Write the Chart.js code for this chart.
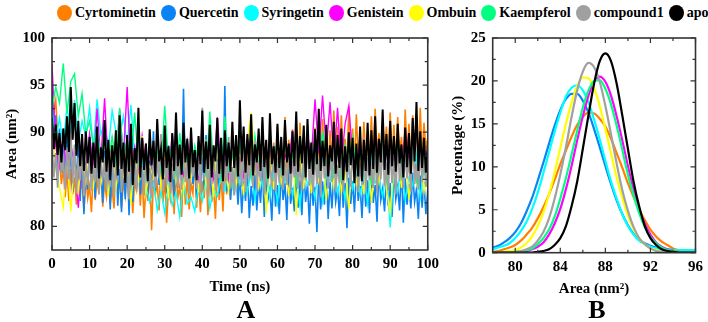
<!DOCTYPE html>
<html>
<head>
<meta charset="utf-8">
<script src="https://cdn.jsdelivr.net/npm/chart.js@4.4.1/dist/chart.umd.min.js"></script>
<style>
    html, body { margin: 0; padding: 0; background: #fff; }
    body {
        width: 708px; height: 322px; position: relative; overflow: hidden;
        font-family: 'Liberation Serif', 'Times New Roman', serif;
    }
    #legend {
        position: absolute; left: 57px; top: 4px; height: 18px;
        display: flex; align-items: center;
        font-weight: bold; font-size: 14px; white-space: nowrap; color: #000;
    }
    .item { display: flex; align-items: center; margin-right: 5px; }
    .dot { width: 15px; height: 16px; border-radius: 50%; margin-right: 3px; }
    #wrapA { position: absolute; left: 0; top: 22px; }
    #wrapB { position: absolute; left: 444px; top: 22px; }
    .tag {
        position: absolute; width: 100px; text-align: center;
        font-weight: bold; font-size: 26px; line-height: 26px; color: #000;
    }
</style>
</head>
<body>
<div id="legend"></div>
<div id="wrapA"><canvas id="chartA" width="444" height="300"></canvas></div>
<div id="wrapB"><canvas id="chartB" width="264" height="300"></canvas></div>
<div class="tag" style="left:196px; top:297px;">A</div>
<div class="tag" style="left:547px; top:297px;">B</div>
<script>
// ---- series names and colours (legend order) ----
const seriesNames = ['Cyrtominetin', 'Quercetin', 'Syringetin', 'Genistein', 'Ombuin', 'Kaempferol', 'compound1', 'apo'];
const seriesColors = ['#ff8000', '#0a84f5', '#00ffff', '#ff00ff', '#ffff00', '#00ff80', '#a0a0a0', '#000000'];
// trace widths for panel A (dense trajectories look solid)
const traceWidths = [1.6, 1.6, 1.4, 1.4, 1.4, 1.4, 1.8, 2.0];

// ---- panel A: area vs time (ns) ----
const timeTicks = [0, 10, 20, 30, 40, 50, 60, 70, 80, 90, 100];
const areaTicks = [80, 85, 90, 95, 100];

// sampled every 0.5 ns
const cyrtoArea = [
    94.6, 92.1, 93.4, 89.7, 87.2, 84.5, 86.3, 83.1, 85.8, 82.7,
    86.1, 83.4, 85.2, 82.3, 86.7, 83.8, 84.9, 81.6, 85.5, 83.0,
    84.3, 81.5, 86.2, 82.8, 85.0, 83.5, 87.1, 82.1, 84.6, 83.2,
    85.8, 82.4, 84.1, 81.9, 86.0, 83.6, 85.3, 82.0, 84.7, 83.3,
    86.4, 82.6, 85.1, 81.4, 84.8, 83.9, 86.6, 82.2, 85.4, 80.9,
    84.2, 82.7, 86.3, 79.6, 85.0, 83.4, 84.5, 81.7, 86.8, 82.5,
    85.2, 80.4, 84.0, 82.9, 86.1, 81.3, 85.7, 83.1, 84.3, 81.0,
    86.4, 82.3, 85.1, 81.8, 84.6, 83.5, 86.9, 82.0, 85.3, 81.5,
    84.8, 83.0, 86.2, 81.2, 85.6, 82.6, 84.1, 80.8, 86.5, 82.8,
    85.3, 81.6, 87.2, 83.4, 88.6, 82.9, 86.0, 84.1, 89.3, 83.6,
    87.5, 84.2, 89.8, 83.7, 88.1, 85.3, 90.4, 84.6, 87.2, 85.9,
    89.6, 84.8, 91.2, 85.5, 88.3, 84.0, 90.1, 86.2, 88.9, 85.1,
    90.7, 85.8, 88.4, 84.7, 91.6, 86.0, 89.2, 85.3, 90.3, 86.5,
    88.6, 85.2, 91.0, 86.3, 89.5, 84.9, 90.8, 86.7, 88.2, 85.6,
    90.5, 86.1, 89.0, 85.4, 91.4, 86.8, 88.7, 85.7, 90.2, 86.4,
    92.3, 87.1, 90.6, 86.2, 91.8, 87.4, 89.3, 86.0, 92.7, 87.6,
    90.4, 86.5, 91.9, 87.2, 89.8, 85.9, 91.1, 86.8, 90.0, 87.3,
    91.7, 86.4, 92.5, 87.5, 89.9, 86.9, 91.3, 87.8, 90.6, 86.6,
    92.1, 87.0, 90.8, 86.3, 91.6, 87.7, 89.5, 86.1, 92.4, 87.4,
    90.9, 86.8, 91.8, 87.9, 90.2, 86.5, 92.6, 87.2, 91.0, 88.3,
    89.4
];
const quercetinArea = [
    95.6, 89.3, 91.8, 86.2, 90.4, 85.7, 88.9, 84.3, 89.6, 85.1,
    88.2, 83.6, 87.9, 84.8, 89.1, 82.7, 87.4, 81.3, 86.6, 83.9,
    88.5, 84.2, 87.1, 83.0, 89.4, 84.6, 86.3, 82.5, 88.0, 83.7,
    86.9, 81.8, 87.6, 83.3, 88.7, 82.2, 86.1, 81.5, 87.3, 82.9,
    88.1, 81.2, 86.7, 82.6, 87.8, 84.0, 89.2, 83.4, 86.5, 84.5,
    88.8, 83.1, 87.0, 84.9, 90.1, 83.8, 87.5, 84.4, 89.0, 85.2,
    87.7, 83.5, 88.6, 84.7, 86.4, 83.2, 89.5, 84.1, 87.2, 85.0,
    94.6, 84.8, 88.3, 83.6, 87.9, 84.5, 86.8, 83.0, 88.9, 84.2,
    87.4, 83.9, 89.7, 84.6, 86.6, 83.3, 88.2, 84.8, 87.1, 83.5,
    89.3, 84.0, 94.9, 83.7, 87.5, 82.8, 86.2, 83.4, 85.8, 82.3,
    85.6, 81.4, 84.8, 82.7, 86.0, 80.9, 84.3, 82.2, 85.5, 81.7,
    84.7, 82.5, 86.2, 81.0, 85.1, 82.9, 84.0, 80.6, 85.8, 82.1,
    84.4, 81.3, 85.9, 82.8, 84.6, 80.7, 86.3, 82.4, 84.1, 81.6,
    85.7, 82.0, 84.9, 81.2, 86.1, 82.6, 84.5, 80.3, 85.3, 82.2,
    84.2, 79.4, 85.6, 81.8, 84.8, 82.3, 86.0, 80.8, 84.7, 81.9,
    85.4, 82.6, 84.1, 81.1, 85.9, 82.0, 84.6, 79.8, 85.2, 82.4,
    84.8, 81.5, 86.1, 82.7, 84.3, 80.9, 85.6, 82.1, 84.9, 81.4,
    85.8, 82.5, 84.4, 80.5, 86.2, 82.8, 84.0, 81.6, 85.3, 82.2,
    84.6, 81.0, 85.9, 82.9, 84.2, 81.7, 86.4, 80.4, 85.1, 82.3,
    84.5, 81.9, 85.7, 82.6, 84.0, 80.8, 85.4, 82.0, 84.7, 81.3,
    83.8
];
const compound1Area = [
    88.9, 85.2, 87.8, 84.1, 89.6, 85.7, 87.1, 83.9, 88.4, 85.0,
    90.2, 84.6, 88.7, 83.5, 87.3, 84.9, 88.1, 83.2, 86.9, 84.4,
    87.7, 83.8, 86.5, 84.7, 88.9, 83.4, 87.2, 85.1, 86.6, 83.7,
    88.3, 84.2, 87.5, 83.1, 86.8, 84.8, 89.1, 83.6, 87.4, 84.5,
    86.9, 82.9, 88.6, 84.3, 87.0, 83.7, 89.4, 84.9, 86.4, 83.3,
    87.9, 84.6, 86.2, 83.0, 88.5, 84.1, 87.3, 85.2, 89.8, 83.8,
    87.1, 84.4, 88.2, 83.5, 86.7, 85.0, 88.8, 84.2, 87.6, 83.9,
    89.0, 84.7, 86.9, 83.4, 88.0, 85.3, 87.2, 84.0, 88.7, 83.6,
    92.6, 84.9, 89.3, 83.2, 87.5, 84.5, 88.4, 83.8, 86.6, 85.1,
    88.1, 83.7, 87.0, 84.8, 89.5, 84.0, 86.3, 83.3, 88.6, 84.6,
    87.4, 84.3, 88.9, 83.6, 86.5, 85.4, 87.8, 84.1, 89.2, 83.9,
    86.9, 84.8, 88.3, 83.4, 87.6, 85.0, 86.4, 84.2, 88.7, 83.7,
    87.3, 84.6, 89.0, 83.9, 86.8, 84.4, 88.2, 83.5, 87.0, 85.2,
    88.5, 84.0, 86.7, 83.8, 87.9, 84.9, 89.3, 84.3, 86.6, 83.6,
    88.0, 84.5, 87.2, 83.1, 88.8, 85.1, 86.9, 84.0, 87.7, 84.7,
    89.1, 83.9, 86.5, 84.6, 88.3, 83.7, 87.5, 85.3, 86.8, 84.2,
    87.9, 84.8, 88.6, 83.6, 86.7, 84.4, 89.4, 83.9, 87.3, 84.9,
    86.8, 84.1, 88.1, 83.5, 87.6, 85.0, 88.9, 84.3, 86.5, 83.8,
    88.4, 84.6, 87.0, 83.4, 89.2, 84.8, 86.9, 84.0, 88.0, 85.1,
    87.2, 83.7, 91.2, 84.5, 86.6, 83.9, 88.3, 84.7, 87.5, 84.2,
    86.4
];
const apoArea = [
    91.5, 88.2, 90.8, 87.6, 89.9, 86.8, 90.4, 88.1, 91.7, 87.9,
    94.8, 89.2, 93.1, 87.5, 91.2, 86.4, 89.8, 85.9, 90.1, 86.7,
    89.5, 85.6, 88.9, 86.2, 90.6, 85.1, 88.4, 86.8, 91.3, 85.8,
    89.2, 84.9, 88.6, 86.3, 90.2, 85.4, 91.8, 86.1, 88.9, 84.6,
    89.7, 85.8, 90.9, 84.4, 88.3, 86.7, 92.6, 85.2, 89.4, 86.0,
    88.8, 84.8, 90.3, 86.5, 89.1, 85.3, 91.4, 86.9, 88.2, 85.0,
    90.7, 86.2, 88.5, 84.7, 89.9, 85.9, 92.1, 86.4, 88.7, 85.5,
    91.0, 86.8, 89.3, 85.1, 90.5, 86.3, 88.1, 84.9, 89.6, 86.6,
    92.3, 85.7, 89.0, 86.1, 90.8, 85.2, 88.6, 86.9, 91.5, 85.6,
    89.4, 84.8, 90.2, 86.4, 88.9, 85.8, 91.1, 86.2, 89.7, 85.3,
    93.4, 86.9, 90.6, 85.7, 89.8, 86.5, 91.9, 85.4, 88.7, 86.8,
    90.4, 85.9, 91.6, 86.3, 89.2, 85.1, 92.0, 86.6, 88.5, 85.7,
    90.9, 86.2, 89.5, 85.4, 91.3, 86.8, 88.8, 85.6, 90.1, 86.4,
    92.2, 85.8, 89.6, 86.7, 90.7, 85.2, 91.4, 86.1, 88.9, 85.5,
    90.3, 86.6, 92.5, 85.9, 89.1, 86.4, 90.8, 85.3, 88.6, 86.9,
    91.1, 85.6, 89.7, 86.2, 90.4, 84.9, 88.5, 85.8, 90.0, 86.5,
    89.4, 84.6, 88.8, 85.3, 90.6, 84.8, 89.2, 85.9, 91.0, 85.4,
    90.2, 86.1, 91.7, 85.7, 89.3, 86.8, 92.4, 86.0, 89.8, 85.5,
    91.2, 86.4, 89.6, 85.8, 90.9, 86.7, 88.7, 85.2, 90.5, 86.3,
    89.9, 85.6, 91.5, 86.9, 93.2, 85.9, 90.1, 86.2, 89.4, 85.7,
    88.6
];

// sampled every 1 ns
const syringetinArea = [
    92.4, 89.1, 91.5, 88.6, 92.8, 89.7, 93.4, 88.9, 91.2, 89.5,
    92.6, 88.4, 93.5, 89.8, 91.0, 88.2, 92.3, 90.1, 89.4, 91.7,
    88.6, 92.9, 87.3, 90.4, 86.8, 84.2, 82.6, 84.9, 81.7, 83.8,
    81.4, 84.5, 82.2, 83.6, 81.0, 84.8, 82.4, 83.1, 81.6, 84.3,
    82.7, 85.1, 81.9, 84.0, 83.2, 85.6, 83.8, 86.2, 84.1, 86.8,
    84.5, 87.2, 83.6, 85.9, 82.8, 86.5, 84.2, 87.4, 83.1, 85.7,
    82.5, 86.3, 84.7, 87.0, 83.3, 85.4, 82.1, 86.6, 84.4, 85.2,
    83.0, 86.9, 82.6, 85.3, 84.8, 87.1, 83.5, 85.8, 82.9, 86.4,
    84.0, 86.7, 83.4, 85.5, 82.4, 87.3, 84.6, 85.0, 83.2, 86.1,
    79.9, 85.6, 83.7, 86.8, 82.8, 85.2, 84.3, 87.5, 83.0, 85.9,
    84.6
];
const genisteinArea = [
    97.2, 88.5, 86.3, 89.2, 85.6, 88.8, 86.4, 82.0, 87.9, 86.1,
    89.8, 86.3, 92.5, 87.0, 93.6, 85.8, 89.2, 86.7, 92.4, 87.3,
    94.8, 86.1, 88.4, 85.5, 89.6, 86.8, 87.9, 85.2, 89.3, 86.5,
    88.7, 84.8, 89.9, 86.2, 87.4, 85.6, 89.1, 86.9, 88.2, 84.5,
    89.5, 86.4, 87.7, 85.1, 91.6, 86.0, 88.5, 84.9, 89.3, 86.6,
    88.0, 85.3, 89.4, 86.7, 87.2, 85.7, 89.8, 84.6, 88.6, 86.2,
    89.1, 85.4, 87.6, 86.9, 90.2, 85.0, 88.3, 86.3, 89.7, 87.2,
    93.5, 87.8, 93.9, 88.1, 93.2, 87.0, 92.6, 86.5, 90.9, 92.8,
    87.4, 85.9, 89.2, 86.1, 88.1, 85.3, 90.0, 86.8, 87.9, 85.6,
    89.6, 86.4, 88.4, 85.2, 90.3, 86.7, 87.5, 85.8, 89.0, 86.3,
    88.2
];
const ombuinArea = [
    90.8, 86.3, 84.1, 82.0, 87.5, 81.6, 86.9, 83.4, 88.2, 84.7,
    87.6, 83.9, 88.9, 84.5, 86.8, 83.2, 89.3, 84.0, 87.1, 85.4,
    88.5, 82.3, 87.9, 84.6, 89.6, 83.5, 86.4, 85.1, 88.7, 84.2,
    87.3, 83.0, 89.1, 84.8, 86.6, 83.7, 88.3, 85.0, 87.4, 83.6,
    88.8, 84.3, 87.0, 83.1, 89.4, 84.9, 86.5, 83.8, 88.1, 84.4,
    87.7, 83.3, 89.0, 92.1, 86.3, 84.1, 88.6, 81.4, 87.2, 83.9,
    89.2, 84.6, 86.7, 83.2, 88.4, 81.2, 87.8, 84.0, 89.5, 83.5,
    86.9, 84.8, 88.0, 82.7, 87.5, 84.2, 89.1, 83.6, 86.4, 81.8,
    88.3, 84.5, 87.1, 83.4, 89.0, 82.5, 86.8, 84.7, 88.5, 83.9,
    81.5, 86.4, 87.9, 84.1, 88.6, 82.8, 87.3, 84.6, 89.2, 83.7,
    86.5
];
const kaempferolArea = [
    92.5, 94.8, 93.1, 97.3, 92.0, 95.4, 96.2, 91.7, 94.1, 89.8,
    91.2, 88.6, 90.3, 87.4, 89.8, 86.9, 89.5, 86.8, 92.6, 87.2,
    89.4, 86.9, 92.1, 86.6, 88.3, 85.4, 89.2, 86.1, 88.0, 85.8,
    92.8, 86.6, 88.7, 85.4, 89.9, 86.2, 87.8, 85.9, 88.6, 86.8,
    88.1, 85.3, 92.2, 86.5, 89.3, 84.7, 91.7, 86.0, 87.6, 85.6,
    88.9, 86.3, 88.4, 85.1, 89.6, 86.7, 87.2, 84.9, 89.1, 86.4,
    89.3, 85.7, 88.8, 86.8, 87.5, 84.6, 89.7, 85.9, 88.0, 86.1,
    89.4, 85.2, 90.1, 86.6, 87.9, 85.5, 89.2, 84.8, 88.6, 86.9,
    89.5, 85.8, 87.7, 86.2, 89.6, 84.4, 88.3, 86.5, 90.0, 85.1,
    87.8, 86.0, 89.9, 85.4, 88.7, 86.3, 87.4, 84.9, 89.5, 85.7,
    87.9
];

// ---- panel B: area distribution (%) ----
const distX = [78, 78.5, 79, 79.5, 80, 80.5, 81, 81.5, 82, 82.5, 83, 83.5, 84, 84.5, 85, 85.5, 86, 86.5,
    87, 87.5, 88, 88.5, 89, 89.5, 90, 90.5, 91, 91.5, 92, 92.5, 93, 93.5, 94, 94.5, 95, 95.5, 96];
const distTicksX = [80, 84, 88, 92, 96];
const distTicksY = [0, 5, 10, 15, 20, 25];

const cyrtoDist = [0.1, 0.2, 0.4, 0.6, 0.9, 1.4, 2.1, 2.9, 4.0, 5.3, 6.8, 8.5, 10.3, 11.9, 13.5, 14.9, 15.8, 16.3,
    16.2, 15.6, 14.7, 13.3, 11.6, 9.9, 8.1, 6.5, 5.0, 3.8, 2.7, 1.9, 1.3, 0.9, 0.5, 0.3, 0.2, 0.1, 0.1];
const quercetinDist = [0.6, 0.8, 1.2, 1.7, 2.4, 3.4, 4.8, 6.4, 8.4, 10.5, 12.7, 14.8, 16.6, 17.9, 18.5, 18.5, 17.7, 16.3,
    14.4, 12.3, 10.1, 8.0, 6.1, 4.5, 3.2, 2.2, 1.5, 1.1, 0.8, 0.6, 0.4, 0.4, 0.3, 0.3, 0.3, 0.3, 0.3];
const syringetinDist = [0.4, 0.6, 0.8, 1.1, 1.7, 2.5, 3.6, 5.1, 7.0, 9.3, 11.7, 14.1, 16.3, 18.2, 19.2, 19.5, 18.9, 17.5,
    15.5, 13.2, 10.7, 8.3, 6.3, 4.5, 3.1, 2.1, 1.4, 1.0, 0.7, 0.5, 0.4, 0.4, 0.3, 0.3, 0.3, 0.3, 0.3];
const genisteinDist = [0, 0, 0, 0, 0, 0.1, 0.2, 0.4, 0.7, 1.2, 2.1, 3.4, 5.1, 7.4, 10.1, 13.1, 15.9, 18.3,
    19.9, 20.5, 19.9, 18.3, 15.9, 13.1, 10.1, 7.4, 5.1, 3.4, 2.1, 1.2, 0.7, 0.4, 0.2, 0.1, 0, 0, 0];
const ombuinDist = [0, 0, 0.1, 0.2, 0.3, 0.6, 1.1, 1.9, 3.1, 4.7, 6.8, 9.3, 12.2, 15.0, 17.5, 19.4, 20.4, 20.3,
    19.1, 17.1, 14.4, 11.6, 8.8, 6.4, 4.3, 2.8, 1.7, 1.0, 0.5, 0.3, 0.1, 0.1, 0, 0, 0, 0, 0];
const kaempferolDist = [0, 0, 0, 0, 0.1, 0.1, 0.3, 0.5, 1.0, 1.7, 2.7, 4.2, 6.3, 8.7, 11.4, 14.2, 16.9, 18.9,
    20.0, 20.1, 19.1, 17.3, 14.8, 12.0, 9.1, 6.7, 4.6, 3.0, 1.8, 1.1, 0.6, 0.3, 0.2, 0.1, 0, 0, 0];
const compound1Dist = [0, 0, 0, 0, 0.1, 0.2, 0.4, 0.7, 1.4, 2.4, 4.0, 6.3, 9.1, 12.3, 15.8, 18.9, 21.1, 22.1,
    21.6, 19.9, 17.1, 13.8, 10.4, 7.3, 4.9, 3.0, 1.7, 1.0, 0.5, 0.2, 0.1, 0, 0, 0, 0, 0, 0];
const apoDist = [0, 0, 0, 0, 0, 0, 0, 0, 0.1, 0.2, 0.4, 0.9, 1.7, 3.1, 5.4, 8.3, 12.1, 16.0,
    19.7, 22.3, 23.2, 22.3, 19.7, 16.0, 12.1, 8.3, 5.4, 3.1, 1.7, 0.9, 0.4, 0.2, 0.1, 0, 0, 0, 0];

// series tables in legend order
const timeSeries = [
    { values: cyrtoArea, step: 0.5 },
    { values: quercetinArea, step: 0.5 },
    { values: syringetinArea, step: 1 },
    { values: genisteinArea, step: 1 },
    { values: ombuinArea, step: 1 },
    { values: kaempferolArea, step: 1 },
    { values: compound1Area, step: 0.5 },
    { values: apoArea, step: 0.5 }
];
const distSeries = [cyrtoDist, quercetinDist, syringetinDist, genisteinDist, ombuinDist, kaempferolDist, compound1Dist, apoDist];

// ---- legend (HTML, spans both panels) ----
const legendEl = document.getElementById('legend');
seriesNames.forEach((name, i) => {
    const item = document.createElement('div');
    item.className = 'item';
    const dot = document.createElement('span');
    dot.className = 'dot';
    dot.style.background = seriesColors[i];
    const label = document.createElement('span');
    label.textContent = name;
    item.appendChild(dot);
    item.appendChild(label);
    legendEl.appendChild(item);
});

// ---- shared styling ----
const FONT = "'Liberation Serif', 'Times New Roman', serif";
const tickFont = { family: FONT, size: 15, weight: 'bold' };
const titleFont = { family: FONT, size: 15, weight: 'bold' };

// box frame with inward major / minor ticks on all four sides
const frameTicks = {
    id: 'frameTicks',
    afterDatasetsDraw(chart) {
        const { ctx, chartArea: a, scales } = chart;
        const sx = scales.x, sy = scales.y;
        const minorOf = (scale) => {
            const v = scale.ticks.map(t => t.value);
            const step = v[1] - v[0];
            const out = [];
            for (let i = 0; i < v.length; i++) {
                const m = v[i] - step / 2;
                if (m > scale.min) out.push(m);
            }
            const last = v[v.length - 1] + step / 2;
            if (last < scale.max) out.push(last);
            return out;
        };
        ctx.save();
        ctx.strokeStyle = '#333';
        ctx.lineWidth = 1.6;
        ctx.strokeRect(a.left, a.top, a.right - a.left, a.bottom - a.top);
        ctx.lineWidth = 1.2;
        ctx.beginPath();
        const tickX = (v, len) => {
            const p = sx.getPixelForValue(v);
            ctx.moveTo(p, a.bottom); ctx.lineTo(p, a.bottom - len);
            ctx.moveTo(p, a.top); ctx.lineTo(p, a.top + len);
        };
        const tickY = (v, len) => {
            const p = sy.getPixelForValue(v);
            ctx.moveTo(a.left, p); ctx.lineTo(a.left + len, p);
            ctx.moveTo(a.right, p); ctx.lineTo(a.right - len, p);
        };
        sx.ticks.forEach(t => tickX(t.value, 5));
        minorOf(sx).forEach(v => tickX(v, 3));
        sy.ticks.forEach(t => tickY(t.value, 5));
        minorOf(sy).forEach(v => tickY(v, 3));
        ctx.stroke();
        ctx.restore();
    }
};

function axis(min, max, ticks, title, fixSize, isX, titlePad) {
    return {
        type: 'linear',
        min: min,
        max: max,
        afterBuildTicks: (s) => { s.ticks = ticks.map(v => ({ value: v })); },
        afterFit: (s) => { if (isX) s.height = fixSize; else s.width = fixSize; },
        grid: { display: false, drawTicks: false },
        border: { display: false },
        ticks: { color: '#000', font: tickFont, padding: isX ? 5 : 7, autoSkip: false, maxRotation: 0 },
        title: { display: true, text: title, color: '#000', font: titleFont, padding: titlePad }
    };
}

const baseOptions = {
    responsive: false,
    maintainAspectRatio: false,
    animation: false,
    events: [],
    plugins: { legend: { display: false }, title: { display: false }, tooltip: { enabled: false } }
};

// ---- chart A: area vs time ----
new Chart(document.getElementById('chartA'), {
    type: 'line',
    data: {
        datasets: timeSeries.map((s, i) => ({
            label: seriesNames[i],
            data: s.values.map((v, k) => ({ x: k * s.step, y: v })),
            borderColor: seriesColors[i],
            borderWidth: traceWidths[i],
            pointRadius: 0,
            tension: 0,
            order: seriesNames.length - i
        }))
    },
    options: Object.assign({}, baseOptions, {
        layout: { padding: { top: 10.5, right: 4, bottom: 0, left: 0 } },
        scales: {
            x: axis(0, 100, timeTicks, 'Time (ns)', 72, true, { top: 0, bottom: 26 }),
            y: axis(77.5, 100, areaTicks, 'Area (nm\u00B2)', 52, false, { top: 3, bottom: 0 })
        }
    }),
    plugins: [frameTicks]
});

// ---- chart B: distributions ----
new Chart(document.getElementById('chartB'), {
    type: 'line',
    data: {
        datasets: distSeries.map((vals, i) => ({
            label: seriesNames[i],
            data: vals.map((v, k) => ({ x: distX[k], y: v })),
            borderColor: seriesColors[i],
            borderWidth: 2.2,
            pointRadius: 0,
            cubicInterpolationMode: 'monotone',
            order: seriesNames.length - i
        }))
    },
    options: Object.assign({}, baseOptions, {
        layout: { padding: { top: 11.3, right: 9.7, bottom: 0, left: 0 } },
        scales: {
            x: axis(78, 96, distTicksX, 'Area (nm\u00B2)', 69.3, true, { top: 0, bottom: 24 }),
            y: axis(0, 25, distTicksY, 'Percentage (%)', 48.7, false, { top: 5, bottom: 0 })
        }
    }),
    plugins: [frameTicks]
});
</script>
</body>
</html>
